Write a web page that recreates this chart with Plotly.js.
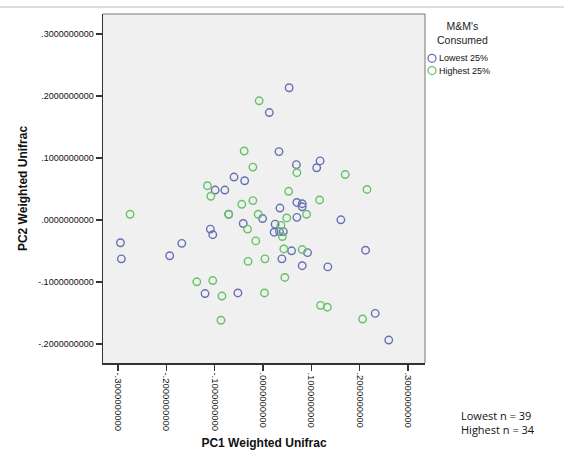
<!DOCTYPE html>
<html>
<head>
<meta charset="utf-8">
<script src="https://cdn.plot.ly/plotly-3.0.1.min.js"></script>
<style>html,body{margin:0;padding:0;background:#fff;}#chart{width:564px;height:454px;}</style>
</head>
<body>
<div id="chart"></div>
<script>
// Lowest 25% M&M's consumed
const lowPC1 = [0.054, 0.013, 0.033, 0.069, 0.111, 0.118, -0.060, -0.038, -0.099, -0.079,
  0.070, 0.081, 0.081, 0.035, -0.001, 0.070, 0.161, 0.025, 0.023, 0.034,
  0.042, 0.059, 0.092, 0.212, 0.039, 0.081, 0.134, 0.232, 0.260, -0.071,
  -0.041, -0.109, -0.104, -0.295, -0.293, -0.168, -0.193, -0.120, -0.052];
const lowPC2 = [0.213, 0.173, 0.110, 0.089, 0.084, 0.095, 0.069, 0.063, 0.048, 0.048,
  0.028, 0.026, 0.021, 0.019, 0.002, 0.004, 0.000, -0.007, -0.020, -0.019,
  -0.019, -0.050, -0.053, -0.049, -0.063, -0.074, -0.076, -0.151, -0.194, 0.009,
  -0.006, -0.015, -0.024, -0.037, -0.063, -0.038, -0.058, -0.119, -0.118];
// Highest 25% M&M's consumed
const highPC1 = [-0.008, -0.039, -0.021, 0.070, -0.115, -0.108, 0.053, 0.170, 0.215, 0.117,
  -0.021, -0.010, 0.049, 0.090, 0.037, 0.040, -0.015, 0.043, 0.081, 0.004,
  -0.031, 0.045, 0.003, 0.119, 0.133, 0.206, -0.275, -0.071, -0.044, -0.032,
  -0.137, -0.104, -0.085, -0.087];
const highPC2 = [0.192, 0.111, 0.085, 0.076, 0.055, 0.038, 0.046, 0.073, 0.049, 0.032,
  0.031, 0.009, 0.003, 0.009, -0.009, -0.027, -0.034, -0.047, -0.048, -0.063,
  -0.067, -0.093, -0.118, -0.138, -0.141, -0.160, 0.009, 0.009, 0.025, -0.015,
  -0.100, -0.098, -0.123, -0.162];

const xTickVals = [-0.3, -0.2, -0.1, 0, 0.1, 0.2, 0.3];
const xTickText = ["-.3000000000", "-.2000000000", "-.1000000000", ".0000000000", ".1000000000", ".2000000000", ".3000000000"];
const yTickVals = [-0.2, -0.1, 0, 0.1, 0.2, 0.3];
const yTickText = ["-.2000000000", "-.1000000000", ".0000000000", ".1000000000", ".2000000000", ".3000000000"];
const seriesNames = ["Lowest 25%", "Highest 25%"];
const legendTitle = "M&M's<br>Consumed";
const noteText = "Lowest n = 39<br>Highest n = 34";

const blue = "#6870b4", green = "#66c266";
const mk = (c) => ({symbol: "circle-open", size: 7.5, color: c, line: {width: 1.4, color: c}});
const traces = [
  {type: "scatter", mode: "markers", name: seriesNames[0], x: lowPC1, y: lowPC2, marker: mk(blue)},
  {type: "scatter", mode: "markers", name: seriesNames[1], x: highPC1, y: highPC2, marker: mk(green)}
];

// compact legend, SPSS style
const legY = [0.873, 0.838];
const legCols = [blue, green];
const legShapes = legY.map((yy, i) => ({
  type: "circle", xref: "paper", yref: "paper",
  xsizemode: "pixel", ysizemode: "pixel", xanchor: 1.0217, yanchor: yy,
  x0: -4, x1: 4, y0: -4, y1: 4,
  line: {color: legCols[i], width: 1.3}
}));
const legAnn = legY.map((yy, i) => ({
  xref: "paper", yref: "paper", x: 1.036, y: yy, xanchor: "left", yanchor: "middle",
  text: seriesNames[i], showarrow: false,
  font: {size: 9, color: "#111"}
}));

const layout = {
  width: 564, height: 454,
  margin: {l: 103, r: 139, t: 14, b: 91},
  paper_bgcolor: "#ffffff",
  plot_bgcolor: "#f0f0f0",
  font: {family: "Liberation Sans, Arial, sans-serif", size: 9, color: "#111"},
  showlegend: false,
  xaxis: {
    range: [-0.331, 0.335],
    tickmode: "array", tickvals: xTickVals, ticktext: xTickText,
    tickangle: 90, ticks: "outside", ticklen: 6, tickwidth: 1.5, tickcolor: "#333",
    showgrid: false, zeroline: false,
    showline: true, linecolor: "#333", linewidth: 1.5, mirror: false,
    tickfont: {size: 9.5, color: "#111"},
    title: {text: "<b>PC1 Weighted Unifrac</b>", font: {size: 12, color: "#111"}, standoff: 8}
  },
  yaxis: {
    range: [-0.231, 0.332],
    tickmode: "array", tickvals: yTickVals, ticktext: yTickText,
    ticks: "outside", ticklen: 6, tickwidth: 1.5, tickcolor: "#333",
    showgrid: false, zeroline: false,
    showline: true, linecolor: "#333", linewidth: 1.5,
    tickfont: {size: 9, color: "#111"},
    title: {text: "<b>PC2 Weighted Unifrac</b>", font: {size: 12, color: "#111"}, standoff: 8}
  },
  shapes: [
    {type: "line", xref: "x domain", yref: "y domain", x0: 0, x1: 1, y0: 1, y1: 1, line: {color: "#777", width: 1}},
    {type: "line", xref: "x domain", yref: "y domain", x0: 1, x1: 1, y0: 0, y1: 1, line: {color: "#777", width: 1}},
    {type: "line", xref: "paper", yref: "paper", x0: -0.4, x1: 1.5, y0: 1.02, y1: 1.02, line: {color: "#bbbbbb", width: 1}}
  ].concat(legShapes),
  annotations: [
    {xref: "paper", yref: "paper", x: 1.115, y: 0.9456, xanchor: "center", yanchor: "middle",
     text: legendTitle, showarrow: false, align: "center",
     font: {size: 10.5, color: "#222"}},
    {xref: "paper", yref: "paper", x: 1.105, y: -0.122, xanchor: "left", yanchor: "top",
     text: noteText, showarrow: false, align: "left",
     font: {family: "Open Sans, Liberation Sans, sans-serif", size: 11, color: "#111"}}
  ].concat(legAnn)
};

Plotly.newPlot("chart", traces, layout, {displayModeBar: false, staticPlot: true});
</script>
</body>
</html>
